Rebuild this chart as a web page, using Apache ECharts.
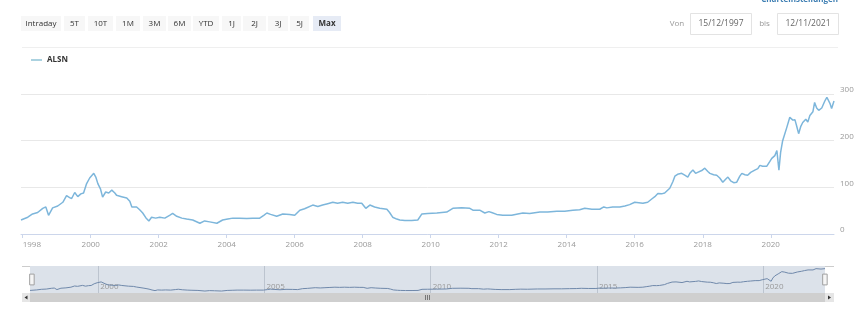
<!DOCTYPE html>
<html><head><meta charset="utf-8">
<script src="https://cdn.jsdelivr.net/npm/echarts@6/dist/echarts.min.js"></script>
<style>html,body{margin:0;padding:0;background:#fff}#c{width:860px;height:313px}</style>
</head><body><div id="c"></div>
<script>
// ---- data ----
const seriesName = 'ALSN';
// [decimal year, price]
const alsnHistory = [
 [1997.95,30],[1998.0,33],[1998.15,36],[1998.29,43],[1998.44,46],[1998.59,55],[1998.68,58],[1998.76,40],[1998.88,56],
 [1999.03,60],[1999.18,68],[1999.29,82],[1999.38,78],[1999.44,76],[1999.53,89],[1999.62,80],[1999.71,86],[1999.79,88],[1999.88,108],[1999.97,120],
 [2000.09,130],[2000.15,122],[2000.21,108],[2000.29,96],[2000.35,79],[2000.44,90],[2000.53,88],[2000.62,94],[2000.71,88],[2000.76,83],[2000.91,80],
 [2001.06,77],[2001.15,70],[2001.21,58],[2001.35,58],[2001.44,52],[2001.53,45],[2001.62,35],[2001.71,28],[2001.79,36],[2001.91,34],
 [2002.03,36],[2002.18,34],[2002.32,40],[2002.41,44],[2002.53,38],[2002.68,34],[2002.82,32],
 [2003.0,30],[2003.21,23],[2003.35,28],[2003.5,26],[2003.71,23],[2003.88,30],
 [2004.03,32],[2004.18,34],[2004.38,34],[2004.59,33],[2004.76,34],[2004.97,34],
 [2005.09,40],[2005.18,45],[2005.29,42],[2005.47,38],[2005.65,43],[2005.85,42],
 [2006.0,40],[2006.15,51],[2006.29,54],[2006.53,62],[2006.68,59],[2006.82,62],[2006.97,65],
 [2007.12,68],[2007.26,66],[2007.41,68],[2007.56,66],[2007.71,68],[2007.85,66],[2007.97,66],
 [2008.09,55],[2008.21,62],[2008.35,58],[2008.5,55],[2008.71,53],[2008.79,46],[2008.88,36],
 [2009.0,32],[2009.09,30],[2009.24,29],[2009.29,28],[2009.44,29],[2009.62,30],[2009.74,43],[2009.91,44],
 [2010.18,45],[2010.47,47],[2010.65,55],[2010.91,56],
 [2011.15,55],[2011.24,51],[2011.44,51],[2011.59,45],[2011.71,48],[2011.79,46],[2011.94,42],
 [2012.12,40],[2012.38,40],[2012.56,43],[2012.71,45],[2012.91,44],
 [2013.21,47],[2013.44,47],[2013.71,49],[2013.94,49],
 [2014.18,51],[2014.38,52],[2014.53,55],[2014.74,53],[2014.97,53],
 [2015.09,58],[2015.18,56],[2015.35,58],[2015.56,58],[2015.71,60],[2015.85,63],
 [2016.0,68],[2016.24,66],[2016.38,68],[2016.5,75],[2016.59,80],[2016.68,87],[2016.79,86],[2016.88,88],
 [2017.03,98],[2017.12,112],[2017.18,124],[2017.26,128],[2017.38,130],[2017.47,126],[2017.56,122],[2017.62,130],[2017.71,137],[2017.79,130],[2017.85,132],[2017.97,136],
 [2018.06,141],[2018.15,134],[2018.21,130],[2018.32,127],[2018.41,126],[2018.5,120],[2018.59,111],[2018.68,118],[2018.74,122],[2018.82,114],[2018.91,110],
 [2019.0,111],[2019.09,124],[2019.15,130],[2019.24,127],[2019.32,126],[2019.41,132],[2019.53,137],[2019.62,140],[2019.68,147],[2019.76,145],[2019.88,145],[2019.97,155],
 [2020.03,162],[2020.12,168],[2020.18,179],[2020.24,137],[2020.29,175],[2020.35,200],[2020.47,228],[2020.56,250],[2020.65,244],[2020.71,245],[2020.76,232],[2020.82,215],[2020.88,230],[2020.94,239],
 [2021.03,246],[2021.09,240],[2021.15,254],[2021.24,262],[2021.29,282],[2021.35,270],[2021.41,265],[2021.5,270],[2021.59,285],[2021.65,293],[2021.74,280],[2021.79,269],[2021.86,285]
];
const xTickYears = [1998,2000,2002,2004,2006,2008,2010,2012,2014,2016,2018,2020];
const navTickYears = [2000,2005,2010,2015,2020];
const yMin = 0, yMax = 300, yStep = 100;
const rangeButtons = ['Intraday','5T','10T','1M','3M','6M','YTD','1J','2J','3J','5J','Max'];
const activeButton = 'Max';
const fromLabel = 'Von', toLabel = 'bis';
const fromDate = '15/12/1997', toDate = '12/11/2021';
const settingsLabel = 'Charteinstellungen';

// ---- layout / style ----
const FONT = '"Open Sans", sans-serif';
const btnBoxes = [[21,40],[64,21],[88,25],[116,24],[143,23],[168,23],[193,26],[222,19],[243,23],[268,20],[290,19],[313,28]];
const xMin = alsnHistory[0][0], xMax = alsnHistory[alsnHistory.length-1][0];

const graphics = [];
rangeButtons.forEach((b,i)=>{
  const [x,w] = btnBoxes[i];
  const act = b === activeButton;
  graphics.push({type:'rect', shape:{x:x,y:16,width:w,height:15}, style:{fill: act ? '#e6ebf5' : '#f7f7f7'}, silent:true});
  graphics.push({type:'text', x:x+w/2, y:24, style:{text:b, fill:'#333', font:(act?'bold ':'')+'8px '+FONT, align:'center', verticalAlign:'middle'}, silent:true});
});
graphics.push({type:'line', shape:{x1:22,y1:47.5,x2:838,y2:47.5}, style:{stroke:'#efefef', lineWidth:1}, silent:true});
graphics.push({type:'text', x:838, y:4, style:{text:settingsLabel, fill:'#3f7fb3', font:'bold 8px '+FONT, align:'right', verticalAlign:'bottom'}, silent:true});
graphics.push({type:'text', x:677, y:24, style:{text:fromLabel, fill:'#999', font:'8px '+FONT, align:'center', verticalAlign:'middle'}, silent:true});
graphics.push({type:'rect', shape:{x:690.5,y:13.5,width:61,height:21}, style:{fill:'#fff', stroke:'#e3e3e3', lineWidth:1}, silent:true});
graphics.push({type:'text', x:721, y:24, style:{text:fromDate, fill:'#666', font:'8.5px '+FONT, align:'center', verticalAlign:'middle'}, silent:true});
graphics.push({type:'text', x:764.5, y:24, style:{text:toLabel, fill:'#999', font:'8px '+FONT, align:'center', verticalAlign:'middle'}, silent:true});
graphics.push({type:'rect', shape:{x:777.5,y:13.5,width:61,height:21}, style:{fill:'#fff', stroke:'#e3e3e3', lineWidth:1}, silent:true});
graphics.push({type:'text', x:808, y:24, style:{text:toDate, fill:'#666', font:'8.5px '+FONT, align:'center', verticalAlign:'middle'}, silent:true});
// navigator outline + scrollbar
graphics.push({type:'line', shape:{x1:22,y1:266.5,x2:30,y2:266.5}, style:{stroke:'#cccccc'}, silent:true});
graphics.push({type:'line', shape:{x1:825,y1:266.5,x2:834,y2:266.5}, style:{stroke:'#cccccc'}, silent:true});
graphics.push({type:'rect', shape:{x:30,y:293,width:795,height:9}, style:{fill:'#cfcfcf'}, silent:true});
graphics.push({type:'rect', shape:{x:22,y:293,width:8,height:9}, style:{fill:'#e6e6e6'}, silent:true});
graphics.push({type:'rect', shape:{x:825,y:293,width:9,height:9}, style:{fill:'#e6e6e6'}, silent:true});
graphics.push({type:'polygon', shape:{points:[[27.5,295.5],[24.5,297.5],[27.5,299.5]]}, style:{fill:'#333'}, silent:true});
graphics.push({type:'polygon', shape:{points:[[828,295.5],[831,297.5],[828,299.5]]}, style:{fill:'#333'}, silent:true});
[425.5,427.5,429.5].forEach(x=>graphics.push({type:'line', shape:{x1:x,y1:295,x2:x,y2:300}, style:{stroke:'#777', lineWidth:1}, silent:true}));

const chart = echarts.init(document.getElementById('c'), null, {renderer:'canvas'});
chart.setOption({
  animation:false,
  backgroundColor:'#fff',
  textStyle:{fontFamily:FONT},
  legend:{data:[seriesName], left:26, top:51, icon:'rect', itemWidth:11, itemHeight:1.5, itemGap:10,
    itemStyle:{color:'#8fc3d6'},
    textStyle:{fontSize:8, fontWeight:'bold', color:'#333', fontFamily:FONT, padding:[0,0,0,0]}},
  grid:[
    {left:21, right:26, top:94, bottom:79},
    {left:30, right:35, top:266, height:27, show:true, backgroundColor:'#dce2ea', borderWidth:0}
  ],
  xAxis:[
    {type:'value', gridIndex:0, min:xMin, max:xMax,
      axisLine:{show:true, lineStyle:{color:'#ccd6eb', width:1}},
      axisTick:{show:true, length:4, customValues:xTickYears, lineStyle:{color:'#ccd6eb'}},
      axisLabel:{customValues:xTickYears, formatter:v=>String(Math.round(v)), color:'#999', fontSize:8, margin:7, alignMinLabel:'left', fontFamily:FONT},
      splitLine:{show:false}},
    {type:'value', gridIndex:1, min:xMin, max:xMax,
      axisLine:{show:false}, axisTick:{show:false, customValues:navTickYears},
      axisLabel:{customValues:navTickYears, inside:true, align:'left', margin:2, padding:[0,0,0,2], formatter:v=>String(Math.round(v)), color:'#999', fontSize:8, fontFamily:FONT},
      splitLine:{show:true, lineStyle:{color:'#bcc4cf', width:1}}}
  ],
  yAxis:[
    {type:'value', gridIndex:0, position:'right', min:yMin, max:yMax, interval:yStep,
      axisLine:{show:false}, axisTick:{show:false},
      axisLabel:{color:'#999', fontSize:8, margin:6, verticalAlign:'bottom', fontFamily:FONT},
      splitLine:{show:true, lineStyle:{color:'#e8e8e8', width:1}}},
    {type:'value', gridIndex:1, show:false, min:0, max:316}
  ],
  dataZoom:[{type:'slider', xAxisIndex:0, filterMode:'none', start:0, end:100,
    left:30, right:35, top:266, height:27, showDataShadow:false, showDetail:false,
    backgroundColor:'rgba(0,0,0,0)', fillerColor:'rgba(0,0,0,0)', borderColor:'rgba(0,0,0,0)',
    handleIcon:'path://M0,0h5v12h-5z', handleSize:'40%',
    handleStyle:{color:'#f5f5f5', borderColor:'#a0a0a0', borderWidth:1},
    moveHandleSize:0, brushSelect:false}],
  series:[
    {name:seriesName, type:'line', xAxisIndex:0, yAxisIndex:0, data:alsnHistory, symbol:'none', showSymbol:false,
      lineStyle:{color:'#7db6db', width:1.5}, itemStyle:{color:'#7db6db'}, silent:true},
    {name:'nav', type:'line', xAxisIndex:1, yAxisIndex:1, data:alsnHistory, symbol:'none', showSymbol:false,
      lineStyle:{color:'#6f88aa', width:1}, silent:true}
  ],
  graphic:graphics
});
</script></body></html>
